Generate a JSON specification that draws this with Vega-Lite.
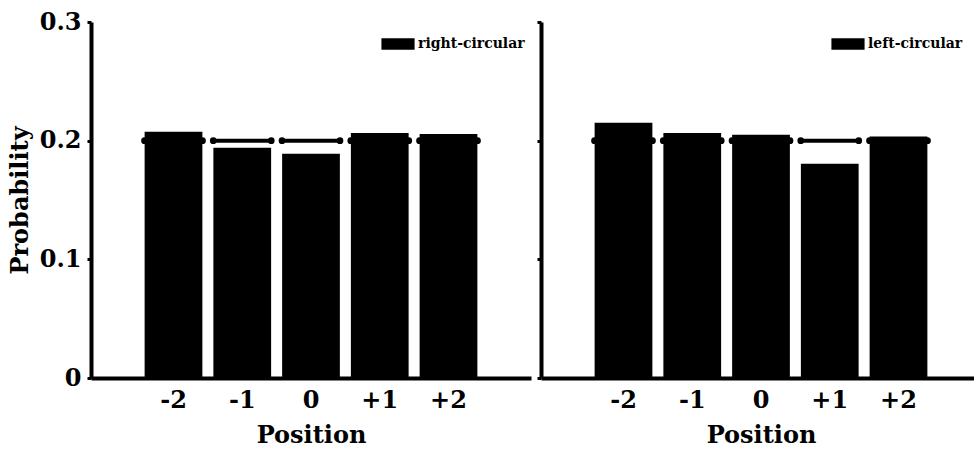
{
  "$schema": "https://vega.github.io/schema/vega-lite/v6.json",
  "padding": {"left": 8, "top": 10, "right": 0, "bottom": 0},
  "spacing": 4,
  "datasets": {
    "rc": [
      {"pos": "-2", "p": 0.2075, "pol": "right-circular"},
      {"pos": "-1", "p": 0.194, "pol": "right-circular"},
      {"pos": "0", "p": 0.189, "pol": "right-circular"},
      {"pos": "+1", "p": 0.2065, "pol": "right-circular"},
      {"pos": "+2", "p": 0.2057, "pol": "right-circular"}
    ],
    "lc": [
      {"pos": "-2", "p": 0.215, "pol": "left-circular"},
      {"pos": "-1", "p": 0.2065, "pol": "left-circular"},
      {"pos": "0", "p": 0.205, "pol": "left-circular"},
      {"pos": "+1", "p": 0.1805, "pol": "left-circular"},
      {"pos": "+2", "p": 0.2036, "pol": "left-circular"}
    ]
  },
  "config": {
    "font": "DejaVu Serif",
    "view": {"stroke": null},
    "axis": {
      "grid": false,
      "domainColor": "black",
      "domainWidth": 4,
      "tickColor": "black",
      "tickWidth": 3,
      "tickSize": 4,
      "labelFont": "DejaVu Serif",
      "labelFontWeight": "bold",
      "labelFontSize": 24,
      "labelColor": "black",
      "titleFont": "DejaVu Serif",
      "titleFontWeight": "bold",
      "titleFontSize": 24,
      "titleColor": "black"
    },
    "legend": {
      "orient": "none",
      "legendX": 290,
      "legendY": 5,
      "symbolType": "M-1,-0.34H1V0.34H-1Z",
      "symbolSize": 1100,
      "symbolStrokeWidth": 0,
      "labelFont": "DejaVu Serif",
      "labelFontWeight": "bold",
      "labelFontSize": 14,
      "labelColor": "black",
      "labelOffset": 3
    }
  },
  "resolve": {
    "scale": {"color": "independent", "x": "independent", "y": "independent"},
    "legend": {"color": "independent"},
    "axis": {"x": "independent", "y": "independent"}
  },
  "hconcat": [
    {
      "width": 440,
      "height": 356,
      "data": {"name": "rc"},
      "encoding": {
        "x": {
          "field": "pos",
          "type": "ordinal",
          "sort": ["-2", "-1", "0", "+1", "+2"],
          "scale": {"paddingInner": 0.16, "paddingOuter": 0.78},
          "axis": {"title": "Position", "labelAngle": 0, "ticks": false, "labelPadding": 10, "titlePadding": 11}
        }
      },
      "layer": [
        {
          "mark": {"type": "bar"},
          "encoding": {
            "y": {
              "field": "p",
              "type": "quantitative",
              "scale": {"domain": [0, 0.3]},
              "axis": {"title": "Probability", "values": [0, 0.1, 0.2, 0.3], "format": ".1~f", "labelPadding": 6, "titlePadding": 7}
            },
            "color": {"field": "pol", "type": "nominal", "scale": {"range": ["black"]}, "legend": {"title": null}}
          }
        },
        {
          "mark": {"type": "tick", "color": "black", "size": 58, "thickness": 4, "opacity": 1},
          "encoding": {"y": {"datum": 0.2, "type": "quantitative"}}
        },
        {
          "mark": {"type": "point", "filled": true, "color": "black", "size": 45, "opacity": 1, "xOffset": -29},
          "encoding": {"y": {"datum": 0.2, "type": "quantitative"}}
        },
        {
          "mark": {"type": "point", "filled": true, "color": "black", "size": 45, "opacity": 1, "xOffset": 29},
          "encoding": {"y": {"datum": 0.2, "type": "quantitative"}}
        }
      ]
    },
    {
      "width": 440,
      "height": 356,
      "data": {"name": "lc"},
      "encoding": {
        "x": {
          "field": "pos",
          "type": "ordinal",
          "sort": ["-2", "-1", "0", "+1", "+2"],
          "scale": {"paddingInner": 0.16, "paddingOuter": 0.78},
          "axis": {"title": "Position", "labelAngle": 0, "ticks": false, "labelPadding": 10, "titlePadding": 11}
        }
      },
      "layer": [
        {
          "mark": {"type": "bar"},
          "encoding": {
            "y": {
              "field": "p",
              "type": "quantitative",
              "scale": {"domain": [0, 0.3]},
              "axis": {"title": null, "values": [0, 0.1, 0.2, 0.3], "labels": false}
            },
            "color": {"field": "pol", "type": "nominal", "scale": {"range": ["black"]}, "legend": {"title": null}}
          }
        },
        {
          "mark": {"type": "tick", "color": "black", "size": 58, "thickness": 4, "opacity": 1},
          "encoding": {"y": {"datum": 0.2, "type": "quantitative"}}
        },
        {
          "mark": {"type": "point", "filled": true, "color": "black", "size": 45, "opacity": 1, "xOffset": -29},
          "encoding": {"y": {"datum": 0.2, "type": "quantitative"}}
        },
        {
          "mark": {"type": "point", "filled": true, "color": "black", "size": 45, "opacity": 1, "xOffset": 29},
          "encoding": {"y": {"datum": 0.2, "type": "quantitative"}}
        }
      ]
    }
  ]
}
